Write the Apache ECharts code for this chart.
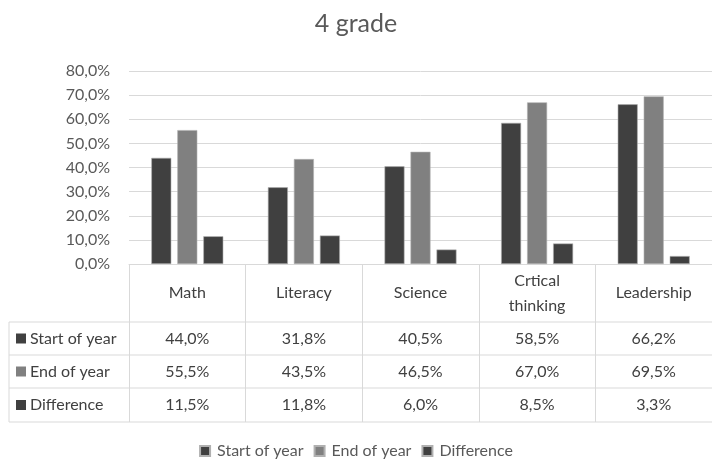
<!DOCTYPE html>
<html>
<head>
<meta charset="utf-8">
<script src="https://cdn.jsdelivr.net/npm/echarts@6/dist/echarts.min.js"></script>
<style>
    html, body { margin: 0; padding: 0; background: #fff; }
    #chart { width: 712px; height: 468px; }
</style>
</head>
<body>
<div id="chart"></div>
<script>
// data
const categories = ['Math', 'Literacy', 'Science', 'Crtical\nthinking', 'Leadership'];
const seriesNames = ['Start of year', 'End of year', 'Difference'];
const startOfYear = [44.0, 31.8, 40.5, 58.5, 66.2];
const endOfYear = [55.5, 43.5, 46.5, 67.0, 69.5];
const difference = [11.5, 11.8, 6.0, 8.5, 3.3];
const seriesColors = ['#404040', '#808080', '#404040'];

const FONT = 'Lato, "Liberation Sans", sans-serif';
const lineColor = '#d9d9d9';
const rowTops = [322, 355, 388, 422];

const pct = (v) => v.toFixed(1).replace('.', ',') + '%';

const chart = echarts.init(document.getElementById('chart'));
const allValues = [startOfYear, endOfYear, difference];

chart.setOption({
    animation: false,
    textStyle: { fontFamily: FONT },
    title: {
        text: '4 grade',
        left: 'center',
        top: 6,
        textStyle: { fontFamily: FONT, fontSize: 25, fontWeight: 'normal', color: '#595959' }
    },
    grid: { left: 129, top: 71, width: 587, height: 193 },
    legend: {
        data: seriesNames,
        bottom: 4,
        left: 'center',
        icon: 'rect',
        itemWidth: 10,
        itemHeight: 10,
        itemGap: 10,
        textStyle: { fontFamily: FONT, fontSize: 16, color: '#595959', padding: [0, 0, 0, 2] }
    },
    xAxis: {
        type: 'category',
        data: categories,
        axisLine: { lineStyle: { color: lineColor } },
        axisTick: { show: true, length: 158, interval: 0, lineStyle: { color: lineColor } },
        axisLabel: {
            interval: 0,
            margin: 29,
            verticalAlign: 'middle',
            fontFamily: FONT,
            fontSize: 16,
            lineHeight: 25,
            color: '#404040'
        }
    },
    yAxis: {
        type: 'value',
        min: 0,
        max: 80,
        interval: 10,
        axisLine: { show: false },
        axisTick: { show: false },
        splitLine: { lineStyle: { color: lineColor } },
        axisLabel: { formatter: pct, margin: 19, fontFamily: FONT, fontSize: 16, color: '#595959' }
    },
    series: seriesNames.map((name, i) => ({
        name: name,
        type: 'bar',
        data: allValues[i],
        barWidth: 20,
        barGap: '30%',
        itemStyle: { color: seriesColors[i], borderColor: '#b0b0b0', borderWidth: 0.6 }
    }))
});

// data table under the axis, columns taken from the category axis
const tableLeft = 9;
const tableRight = chart.convertToPixel({ xAxisIndex: 0 }, categories[categories.length - 1]) + 60;
const graphics = [];

rowTops.forEach((y) => {
    graphics.push({
        type: 'line',
        shape: { x1: tableLeft, y1: y, x2: tableRight, y2: y },
        style: { stroke: lineColor, lineWidth: 1 }
    });
});
graphics.push({
    type: 'line',
    shape: { x1: tableLeft, y1: rowTops[0], x2: tableLeft, y2: rowTops[rowTops.length - 1] },
    style: { stroke: lineColor, lineWidth: 1 }
});

seriesNames.forEach((name, r) => {
    const cy = (rowTops[r] + rowTops[r + 1]) / 2;
    graphics.push({
        type: 'rect',
        shape: { x: 16, y: cy - 5, width: 10, height: 10 },
        style: { fill: seriesColors[r] }
    });
    graphics.push({
        type: 'text',
        x: 30,
        y: cy,
        style: { text: name, fontFamily: FONT, fontSize: 16, fill: '#404040', verticalAlign: 'middle' }
    });
    allValues[r].forEach((v, c) => {
        const cx = chart.convertToPixel({ xAxisIndex: 0 }, categories[c]);
        graphics.push({
            type: 'text',
            x: cx,
            y: cy,
            style: { text: pct(v), fontFamily: FONT, fontSize: 16, fill: '#404040', align: 'center', verticalAlign: 'middle' }
        });
    });
});

chart.setOption({ graphic: graphics });
</script>
</body>
</html>
